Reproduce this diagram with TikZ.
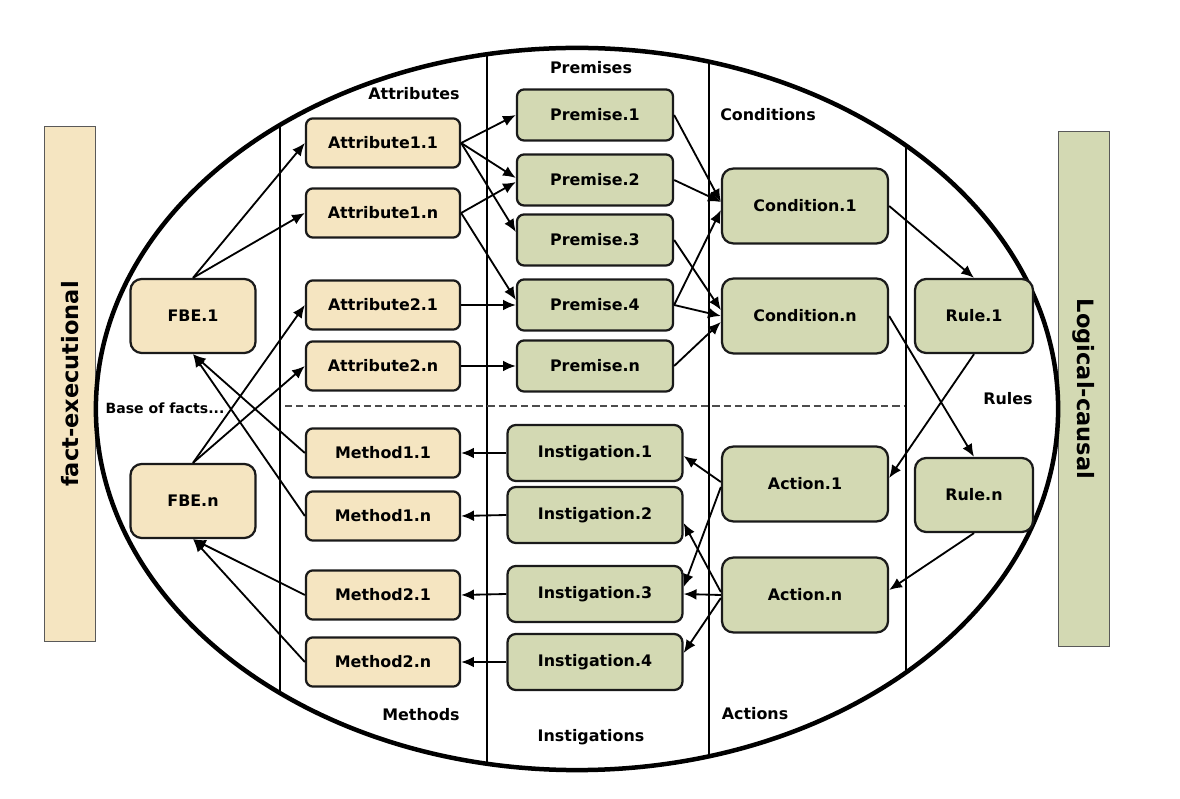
\documentclass[tikz,border=0pt]{standalone}
\usepackage{fontspec}
\setmainfont{DejaVu Sans}
\usetikzlibrary{arrows.meta, calc}
\definecolor{factfill}{HTML}{F5E5C1}
\definecolor{logicfill}{HTML}{D3D9B3}
\definecolor{boxline}{HTML}{1A1A1A}

\begin{document}
\begin{tikzpicture}[
        x=0.025cm, y=-0.025cm,
        >={Latex[length=3.2mm,width=2.7mm]},
        every node/.style={font=\fontsize{11.3}{13}\selectfont\bfseries},
        box/.style={draw=boxline, line width=1.6pt, inner sep=0pt},
        factbox/.style={box, fill=factfill, rounded corners=5pt, minimum width=3.85cm, minimum height=1.23cm},
        fbebox/.style={box, fill=factfill, rounded corners=8pt, minimum width=3.125cm, minimum height=1.85cm},
        premisebox/.style={box, fill=logicfill, rounded corners=5pt, minimum width=3.9cm, minimum height=1.275cm},
        instbox/.style={box, fill=logicfill, rounded corners=6pt, minimum width=4.375cm, minimum height=1.4cm},
        bigbox/.style={box, fill=logicfill, rounded corners=8pt, minimum width=4.15cm, minimum height=1.87cm},
        rulebox/.style={box, fill=logicfill, rounded corners=8pt, minimum width=2.95cm, minimum height=1.85cm},
        sidebar/.style={draw=gray!70!black, line width=0.6pt, minimum width=12.875cm, minimum height=1.275cm,
            inner sep=0pt, font=\fontsize{16}{18}\selectfont\bfseries},
        link/.style={line width=1.3pt}
    ]
    \useasboundingbox (0,0) rectangle (1180,799);

    % side bars
    \node[sidebar, fill=factfill, rotate=90] (Fbar) at (70,384) {fact-executional};
    \node[sidebar, fill=logicfill, rotate=-90] (Lbar) at (1084,389) {Logical-causal};

    % columns inside the ellipse
    \begin{scope}
        \clip (577,409) ellipse [x radius=12.025cm, y radius=9.025cm];
        \foreach \xc in {280,487,709,906}
            \draw[line width=1pt] (\xc,0) -- (\xc,799);
    \end{scope}
    \draw[dashed, dash pattern=on 5pt off 3pt, gray!60!black, line width=0.9pt] (285,406) -- (905,406);
    \draw[line width=3.2pt] (577,409) ellipse [x radius=12.025cm, y radius=9.025cm];

    % column titles
    \node (Tattr) at (414,94) {Attributes};
    \node (Tprem) at (591,68) {Premises};
    \node (Tcond) at (768,115) {Conditions};
    \node (Tbase) at (165,408) [font=\fontsize{10}{12}\selectfont\bfseries] {Base of facts...};
    \node (Trule) at (1008,399) {Rules};
    \node (Tmeth) at (421,715) {Methods};
    \node (Tinst) at (591,737) {Instigations};
    \node (Tact) at (755,714) {Actions};

    % base of facts
    \node[fbebox] (F1) at (193,316) {FBE.1};
    \node[fbebox] (Fn) at (193,501) {FBE.n};

    % attributes and methods
    \node[factbox] (A11) at (383,143) {Attribute1.1};
    \node[factbox] (A1n) at (383,213) {Attribute1.n};
    \node[factbox] (A21) at (383,305) {Attribute2.1};
    \node[factbox] (A2n) at (383,366) {Attribute2.n};
    \node[factbox] (M11) at (383,453) {Method1.1};
    \node[factbox] (M1n) at (383,516) {Method1.n};
    \node[factbox] (M21) at (383,595) {Method2.1};
    \node[factbox] (M2n) at (383,662) {Method2.n};

    % premises and instigations
    \node[premisebox] (P1) at (595,115) {Premise.1};
    \node[premisebox] (P2) at (595,180) {Premise.2};
    \node[premisebox] (P3) at (595,240) {Premise.3};
    \node[premisebox] (P4) at (595,305) {Premise.4};
    \node[premisebox] (Pn) at (595,366) {Premise.n};
    \node[instbox] (I1) at (595,453) {Instigation.1};
    \node[instbox] (I2) at (595,515) {Instigation.2};
    \node[instbox] (I3) at (595,594) {Instigation.3};
    \node[instbox] (I4) at (595,662) {Instigation.4};

    % conditions, actions, rules
    \node[bigbox] (C1) at (805,206) {Condition.1};
    \node[bigbox] (Cn) at (805,316) {Condition.n};
    \node[bigbox] (Ac1) at (805,484) {Action.1};
    \node[bigbox] (Acn) at (805,595) {Action.n};
    \node[rulebox] (R1) at (974,316) {Rule.1};
    \node[rulebox] (Rn) at (974,495) {Rule.n};

    % facts to attributes, methods to facts
    \draw[->, link] (F1.north) -- (A11.west);
    \draw[->, link] (F1.north) -- (A1n.west);
    \draw[->, link] (Fn.north) -- (A21.west);
    \draw[->, link] (Fn.north) -- (A2n.west);
    \draw[->, link] (M11.west) -- (F1.south);
    \draw[->, link] (M1n.west) -- (F1.south);
    \draw[->, link] (M21.west) -- (Fn.south);
    \draw[->, link] (M2n.west) -- (Fn.south);

    % attributes to premises
    \draw[->, link] (A11.east) -- (P1.west);
    \draw[->, link] (A11.east) -- ($(P2.west)+(0,-2)$);
    \draw[->, link] (A11.east) -- ($(P3.west)+(0,-8)$);
    \draw[->, link] (A1n.east) -- ($(P2.west)+(0,2)$);
    \draw[->, link] (A1n.east) -- ($(P4.west)+(0,-5)$);
    \draw[->, link] (A21.east) -- (P4.west);
    \draw[->, link] (A2n.east) -- (Pn.west);

    % premises to conditions
    \draw[->, link] (P1.east) -- ($(C1.west)+(0,-4)$);
    \draw[->, link] (P2.east) -- ($(C1.west)+(0,-4)$);
    \draw[->, link] (P4.east) -- ($(C1.west)+(0,4)$);
    \draw[->, link] (P3.east) -- ($(Cn.west)+(0,-6)$);
    \draw[->, link] (P4.east) -- (Cn.west);
    \draw[->, link] (Pn.east) -- ($(Cn.west)+(0,6)$);

    % conditions to rules to actions
    \draw[->, link] (C1.east) -- (R1.north);
    \draw[->, link] (Cn.east) -- (Rn.north);
    \draw[->, link] (R1.south) -- ($(Ac1.east)+(0,-6)$);
    \draw[->, link] (Rn.south) -- ($(Acn.east)+(0,-5)$);

    % actions to instigations
    \draw[->, link] ($(Ac1.west)+(0,-2)$) -- ($(I1.east)+(0,3)$);
    \draw[->, link] ($(Ac1.west)+(0,3)$) -- ($(I3.east)+(0,-7)$);
    \draw[->, link] ($(Acn.west)+(0,-3)$) -- ($(I2.east)+(0,8)$);
    \draw[->, link] (Acn.west) -- (I3.east);
    \draw[->, link] ($(Acn.west)+(0,3)$) -- ($(I4.east)+(0,-9)$);

    % instigations to methods
    \foreach \i/\m in {I1/M11, I2/M1n, I3/M21, I4/M2n}
        \draw[->, link] (\i.west) -- (\m.east);
\end{tikzpicture}
\end{document}
